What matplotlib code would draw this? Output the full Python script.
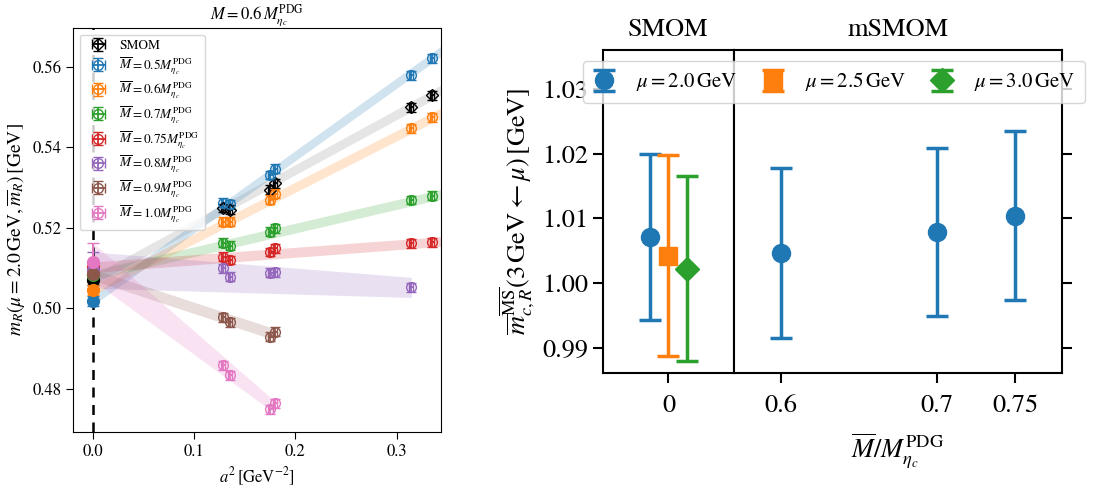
import matplotlib.pyplot as plt

plt.rcParams['font.family'] = 'STIXGeneral'
plt.rcParams['mathtext.fontset'] = 'stix'

# ---- left panel: continuum extrapolation at M = 0.6 M_etac ----
a2_all = [0.129, 0.1355, 0.1755, 0.180, 0.3145, 0.3345]
a2_err = 0.002
labels = ['SMOM',
          r'$\overline{M}=0.5M_{\eta_c}^{\rm PDG}$',
          r'$\overline{M}=0.6M_{\eta_c}^{\rm PDG}$',
          r'$\overline{M}=0.7M_{\eta_c}^{\rm PDG}$',
          r'$\overline{M}=0.75M_{\eta_c}^{\rm PDG}$',
          r'$\overline{M}=0.8M_{\eta_c}^{\rm PDG}$',
          r'$\overline{M}=0.9M_{\eta_c}^{\rm PDG}$',
          r'$\overline{M}=1.0M_{\eta_c}^{\rm PDG}$']
colors = ['k', 'C0', 'C1', 'C2', 'C3', 'C4', 'C5', 'C6']
markers = ['D', 'o', 'o', 'o', 'o', 'o', 'o', 'o']
npts = [6, 6, 6, 6, 6, 5, 4, 4]
m_smom = [0.5249, 0.5245, 0.5295, 0.5310, 0.5499, 0.5529]
m_05 = [0.5262, 0.5258, 0.5331, 0.5347, 0.5579, 0.5621]
m_06 = [0.5215, 0.5215, 0.5270, 0.5285, 0.5447, 0.5474]
m_07 = [0.5163, 0.5155, 0.5190, 0.5199, 0.5269, 0.5280]
m_075 = [0.5128, 0.5120, 0.5140, 0.5149, 0.5161, 0.5164]
m_08 = [0.5099, 0.5078, 0.5088, 0.5090, 0.5052]
m_09 = [0.4978, 0.4965, 0.4930, 0.4942]
m_10 = [0.4859, 0.4834, 0.4749, 0.4764]
m_data = [m_smom, m_05, m_06, m_07, m_075, m_08, m_09, m_10]
m_err = 0.0011

# continuum values and fit band end points
m_cont = [0.5070, 0.5019, 0.5045, 0.5082, 0.5102, 0.5095, 0.5084, 0.5116]
m_cont_err = [0.0012, 0.0012, 0.0012, 0.0012, 0.0013, 0.0045, 0.0014, 0.0047]
band_end_x = [0.345, 0.345, 0.345, 0.345, 0.345, 0.3145, 0.180, 0.180]
band_end_y = [0.5543, 0.5640, 0.5486, 0.5284, 0.5166, 0.5052, 0.4935, 0.4754]
band_end_err = [0.0013, 0.0013, 0.0013, 0.0012, 0.0012, 0.0025, 0.0014, 0.0015]

# ---- right panel ----
mu_labels = [r'$\mu=2.0\,{\rm GeV}$', r'$\mu=2.5\,{\rm GeV}$', r'$\mu=3.0\,{\rm GeV}$']
mu_colors = ['C0', 'C1', 'C2']
mu_markers = ['o', 's', 'D']
smom_x = [-0.28, 0.0, 0.28]
smom_vals = [1.0071, 1.0042, 1.0022]
smom_errs = [0.0128, 0.0155, 0.0143]
msmom_x = [0.6, 0.7, 0.75]
msmom_vals = [1.0046, 1.0079, 1.0104]
msmom_errs = [0.0131, 0.0130, 0.0131]

fig = plt.figure(figsize=(11.15, 4.9), dpi=100)
ax = fig.add_axes([0.0655, 0.1184, 0.330, 0.8245])

for i in range(len(labels)):
    x = a2_all[:npts[i]]
    ax.fill_between([0.0, band_end_x[i]],
                    [m_cont[i] - m_cont_err[i], band_end_y[i] - band_end_err[i]],
                    [m_cont[i] + m_cont_err[i], band_end_y[i] + band_end_err[i]],
                    color=colors[i], alpha=0.2 if i else 0.1, lw=0, zorder=1)
    ax.errorbar(x, m_data[i], xerr=a2_err, yerr=m_err, fmt=markers[i],
                color=colors[i], mfc='none', ms=7 if i else 6, capsize=3.5,
                elinewidth=1.3, label=labels[i], zorder=3)
for i in range(len(labels)):
    ax.errorbar([0.0], [m_cont[i]], yerr=[m_cont_err[i]], fmt='o', color=colors[i],
                ms=8.5, capsize=4, zorder=5)

ax.axvline(0.0, color='k', ls='--', lw=1.8, dashes=(4, 3), zorder=4)
ax.set_xlim(-0.0194, 0.3438)
ax.set_ylim(0.4693, 0.5696)
ax.set_xticks([0.0, 0.1, 0.2, 0.3])
ax.set_yticks([0.48, 0.50, 0.52, 0.54, 0.56])
ax.tick_params(labelsize=12, length=5)
ax.set_title(r'$M=0.6\,M_{\eta_c}^{\rm PDG}$', fontsize=12)
ax.set_xlabel(r'$a^2\,[{\rm GeV}^{-2}]$', fontsize=12)
ax.set_ylabel(r'$m_R(\mu=2.0\,{\rm GeV},\overline{m}_R)\,[{\rm GeV}]$', fontsize=14)
ax.legend(loc='upper left', fontsize=9.5, handletextpad=0.6, labelspacing=0.22)

# right panel: two joined axes
ax1 = fig.add_axes([0.5408, 0.2388, 0.1175, 0.6592])
ax2 = fig.add_axes([0.6583, 0.2388, 0.2942, 0.6592], sharey=ax1)

handles = []
for i in range(3):
    h = ax1.errorbar([smom_x[i]], [smom_vals[i]], yerr=[smom_errs[i]], fmt=mu_markers[i],
                     color=mu_colors[i], ms=13 if i != 2 else 12, capsize=8, elinewidth=2.5,
                     capthick=2.5, label=mu_labels[i])
    handles.append(h)
ax2.errorbar(msmom_x, msmom_vals, yerr=msmom_errs, fmt='o', color='C0', ms=13,
             capsize=8, elinewidth=2.5, capthick=2.5)

ax1.set_xlim(-1, 1)
ax1.set_xticks([0])
ax1.set_xticklabels(['0'])
ax2.set_xlim(0.57, 0.78)
ax2.set_xticks(msmom_x)
ax2.set_xticklabels(['0.6', '0.7', '0.75'])
ax1.set_ylim(0.9861, 1.036)
ax1.set_yticks([0.99, 1.00, 1.01, 1.02, 1.03])
ax1.set_yticklabels(['0.99', '1.00', '1.01', '1.02', '1.03'])
for a in (ax1, ax2):
    for s in a.spines.values():
        s.set_linewidth(1.5)
    a.tick_params(direction='out', length=7, width=1.5, labelsize=19)
    a.tick_params(axis='x', pad=8)
ax1.tick_params(axis='y', left=True, right=False)
ax2.tick_params(axis='y', left=False, right=True, labelleft=False)
ax1.set_title('SMOM', fontsize=19, pad=10)
ax2.set_title('mSMOM', fontsize=19, pad=10)
ax2.set_xlabel(r'$\overline{M}/M_{\eta_c}^{\rm PDG}$', fontsize=19, labelpad=10)
ax1.set_ylabel(r'$\overline{m}^{\overline{\rm MS}}_{c,R}(3\,{\rm GeV}\leftarrow\mu)\,[{\rm GeV}]$',
               fontsize=19)
fig.legend(handles=handles, loc='upper center', bbox_to_anchor=(0.748, 0.8755), ncol=3,
           fontsize=15, handlelength=1.1, handletextpad=1.0, columnspacing=1.15,
           borderpad=0.45, borderaxespad=0)

fig.savefig('out.png', dpi=100)
